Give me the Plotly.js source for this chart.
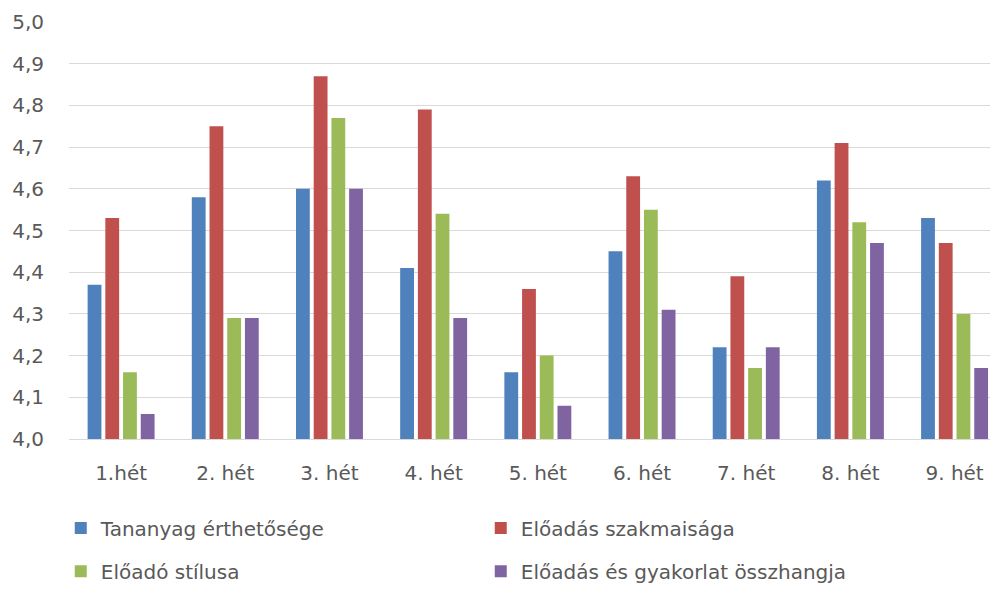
<!DOCTYPE html>
<html>
<head>
<meta charset="utf-8">
<script src="https://cdn.plot.ly/plotly-3.0.1.min.js"></script>
<style>html,body{margin:0;padding:0;background:#fff;}</style>
</head>
<body>
<div id="chart" style="width:996px;height:589px;"></div>
<script>
const weeks = ["1.hét", "2. hét", "3. hét", "4. hét", "5. hét", "6. hét", "7. hét", "8. hét", "9. hét"];
const seriesNames = ["Tananyag érthetősége", "Előadás szakmaisága", "Előadó stílusa", "Előadás és gyakorlat összhangja"];
const tananyag = [4.37, 4.58, 4.60, 4.41, 4.16, 4.45, 4.22, 4.62, 4.53];
const szakmaisag = [4.53, 4.75, 4.87, 4.79, 4.36, 4.63, 4.39, 4.71, 4.47];
const stilus = [4.16, 4.29, 4.77, 4.54, 4.20, 4.55, 4.17, 4.52, 4.30];
const osszhang = [4.06, 4.29, 4.60, 4.29, 4.08, 4.31, 4.22, 4.47, 4.17];
const yTicks = [4.0, 4.1, 4.2, 4.3, 4.4, 4.5, 4.6, 4.7, 4.8, 4.9, 5.0];

const colors = ["#4f81bd", "#c0504d", "#9bbb59", "#8064a2"];
const values = [tananyag, szakmaisag, stilus, osszhang];
const legends = ["legend", "legend", "legend2", "legend2"];

const traces = values.map((v, i) => ({
  type: "bar",
  name: seriesNames[i],
  x: weeks,
  y: v,
  base: 0,
  marker: {color: colors[i]},
  legend: legends[i],
  hoverinfo: "x+y+name"
}));

const fontFam = "DejaVu Sans, Open Sans, sans-serif";
const txtColor = "#595959";
const legendCommon = {
  orientation: "h",
  xref: "container",
  yref: "container",
  xanchor: "left",
  yanchor: "middle",
  x: 0.061,
  entrywidth: 375,
  entrywidthmode: "pixels",
  font: {family: fontFam, size: 20, color: txtColor},
  bgcolor: "rgba(0,0,0,0)",
  itemclick: false
};

const layout = {
  width: 996,
  height: 589,
  margin: {l: 69, r: 6, t: 22, b: 150, autoexpand: false},
  paper_bgcolor: "#ffffff",
  plot_bgcolor: "#ffffff",
  separators: ", ",
  barmode: "group",
  bargap: 0.32,
  bargroupgap: 0.22,
  font: {family: fontFam, color: txtColor, size: 20},
  xaxis: {
    type: "category",
    range: [-0.5, 8.34],
    showgrid: false,
    showline: true,
    linecolor: "#d9d9d9",
    linewidth: 1,
    ticks: "",
    ticklabelstandoff: 16,
    tickfont: {family: fontFam, size: 20, color: txtColor},
    zeroline: false
  },
  yaxis: {
    range: [4.0, 5.0],
    tickvals: yTicks,
    tickformat: ".1f",
    showgrid: true,
    gridcolor: "#d9d9d9",
    gridwidth: 1,
    zeroline: false,
    showline: false,
    ticks: "",
    ticklabelstandoff: 24,
    tickfont: {family: fontFam, size: 20, color: txtColor}
  },
  showlegend: true,
  legend: Object.assign({}, legendCommon, {y: 0.1036}),
  legend2: Object.assign({}, legendCommon, {y: 0.030})
};

Plotly.newPlot("chart", traces, layout, {displayModeBar: false, staticPlot: true});
</script>
</body>
</html>
